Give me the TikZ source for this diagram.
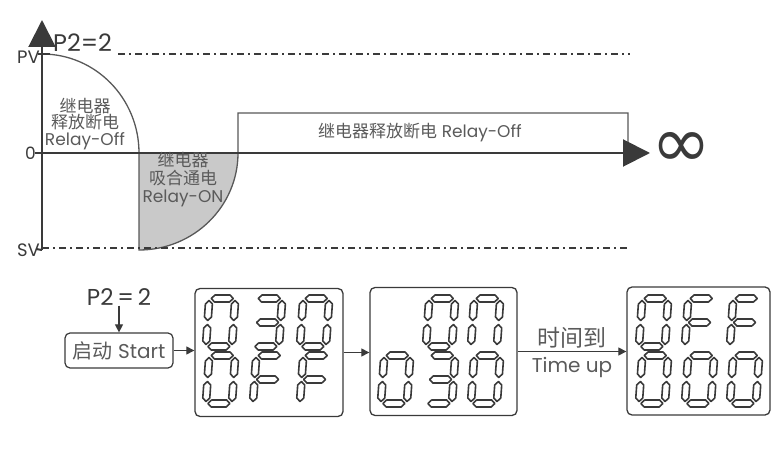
\documentclass[tikz,border=0pt]{standalone}
\usepackage{fontspec}
\setmainfont{Poppins}
\newfontfamily\cjk{Noto Sans CJK SC}
\newfontfamily\djv{DejaVu Sans}
\usetikzlibrary{arrows.meta}
\definecolor{ink}{HTML}{3A3A3A}
\definecolor{txt}{HTML}{5A5A5A}
\definecolor{areagray}{HTML}{C9C9C9}
\newcommand\fs[1]{\fontsize{#1}{#1}\selectfont}
\newcommand\SegH[1]{\draw[seg] (5.5,#1) -- (9,#1-3.5) -- (24,#1-3.5) -- (27.5,#1) -- (24,#1+3.5) -- (9,#1+3.5) -- cycle;}
\newcommand\SegV[3]{\draw[seg] (#1,#2) -- (#1+3.5,#2+3.5) -- (#1+3.5,#3-3.5) -- (#1,#3) -- (#1-3.5,#3-3.5) -- (#1-3.5,#2+3.5) -- cycle;}
\newcommand\SgA{\SegH{3.5}}
\newcommand\SgG{\SegH{27.5}}
\newcommand\SgD{\SegH{51.5}}
\newcommand\SgF{\SegV{3.5}{5.5}{25.5}}
\newcommand\SgB{\SegV{29.5}{5.5}{25.5}}
\newcommand\SgE{\SegV{3.5}{29.5}{49.5}}
\newcommand\SgC{\SegV{29.5}{29.5}{49.5}}
\newcommand\DZero{\SgA\SgB\SgC\SgD\SgE\SgF}
\newcommand\DThree{\SgA\SgB\SgG\SgC\SgD}
\newcommand\DF{\SgA\SgF\SgG\SgE}
\newcommand\DN{\SgA\SgB\SgC\SgE\SgF}
\newcommand\Dig[2]{\begin{scope}[shift={#1},xslant=0.07]#2\end{scope}}
\begin{document}
\begin{tikzpicture}[x=1pt,y=-1pt,
  seg/.style={draw=ink,fill=white,line width=1.6pt,line join=round},
  axis/.style={draw=ink,line width=2pt},
  curve/.style={draw=ink!85,line width=1.3pt},
  dashdot/.style={draw=ink,line width=1.2pt,dash pattern=on 7pt off 4pt on 2pt off 4pt},
  big/.style={-{Triangle[length=27pt,width=27pt]}},
  lbl/.style={text=txt,inner sep=0pt,align=center},
  disp/.style={draw=ink,line width=1.3pt,rounded corners=5pt,minimum width=#1,minimum height=128pt,inner sep=0pt},
  arr/.style={draw=ink,line width=1.1pt,-{Triangle[length=8pt,width=8pt]}},
  startbox/.style={draw=ink,line width=1.2pt,rounded corners=5pt,minimum width=108pt,minimum height=35pt,inner sep=0pt,text=txt}]
\useasboundingbox (0,0) rectangle (771,462);
% ---- upper graph ----
\coordinate (O) at (42,153);
\coordinate (Ytop) at (42,20);
\coordinate (Ybot) at (42,250);
\coordinate (Xend) at (650,153);
\coordinate (PVl) at (118,54);
\coordinate (PVr) at (630,54);
\coordinate (SVr) at (630,248);
\fill[areagray] (139,153) -- (139,250) arc[start angle=90,end angle=0,x radius=99,y radius=97] -- cycle;
\draw[curve] (42,54) arc[start angle=-90,end angle=0,x radius=97,y radius=99] -- (139,250)
  arc[start angle=90,end angle=0,x radius=99,y radius=97] -- (238,113) -- (628,113) -- (628,153);
\draw[dashdot] (PVl) -- (PVr);
\draw[dashdot] (42,248) -- (SVr);
\draw[axis,big] (Ybot) -- (Ytop);
\draw[axis,big] (O) -- (Xend);
\draw[axis] (35,153) -- (O);
\draw[axis] (36,249) -- (Ybot);
\draw[draw=ink,line width=1.2pt] (38,54) -- (50,54);
\node[lbl,anchor=east,text=ink] (pv) at (40,57) {\fs{18}PV};
\node[lbl,anchor=east,text=ink] (zero) at (36,153) {\fs{17}0};
\node[lbl,anchor=east,text=ink] (sv) at (40,250) {\fs{18}SV};
\node[lbl,anchor=base west,text=ink] (p2top) at (53,52) {\fs{24}P2=2};
\node[lbl,font=\fontsize{17}{16.5}\selectfont] (offl) at (85,124) {{\cjk 继电器}\\{\cjk 释放断电}\\Relay-Off};
\node[lbl,font=\fontsize{17}{18}\selectfont] (onl) at (183,180) {{\cjk 继电器}\\{\cjk 吸合通电}\\Relay-ON};
\node[lbl,font=\fs{17}] (offr) at (420,133) {{\cjk 继电器释放断电} Relay-Off};
\node[lbl,text=ink] (inf) at (681,150) {\djv\fs{72}∞};
% ---- lower flow ----
\node[lbl,text=ink] (p2) at (119,297) {\fs{23}P2\,=\,2};
\node[startbox] (start) at (119,350.5) {\fs{20}{\cjk 启动} Start};
\node[disp=148pt] (d1) at (269,352.5) {};
\node[disp=147pt] (d2) at (443.5,351.5) {};
\node[disp=143pt] (d3) at (698.5,351) {};
\draw[arr] (p2.south) -- (start.north);
\draw[arr] (start.east) -- (start.east -| d1.west);
\draw[arr] (d1.east) -- (d1.east -| d2.west);
\draw[arr] (d2.east) -- node[lbl,above=3pt]{\fs{23}\cjk 时间到} node[lbl,below=5pt]{\fs{20}Time up} (d2.east -| d3.west);
% digits box 1
\Dig{(206,295)}{\DZero}
\Dig{(253,295)}{\DThree}
\Dig{(300,295)}{\DZero}
\Dig{(206,352)}{\DZero}
\Dig{(253,352)}{\DF}
\Dig{(300,352)}{\DF}
% box 2
\Dig{(426,295)}{\DZero}
\Dig{(471,295)}{\DN}
\Dig{(381,352)}{\DZero}
\Dig{(426,352)}{\DThree}
\Dig{(471,352)}{\DZero}
% box 3
\Dig{(639,295)}{\DZero}
\Dig{(685,295)}{\DF}
\Dig{(730,295)}{\DF}
\Dig{(639,352)}{\DZero}
\Dig{(685,352)}{\DZero}
\Dig{(730,352)}{\DZero}
\end{tikzpicture}
\end{document}
